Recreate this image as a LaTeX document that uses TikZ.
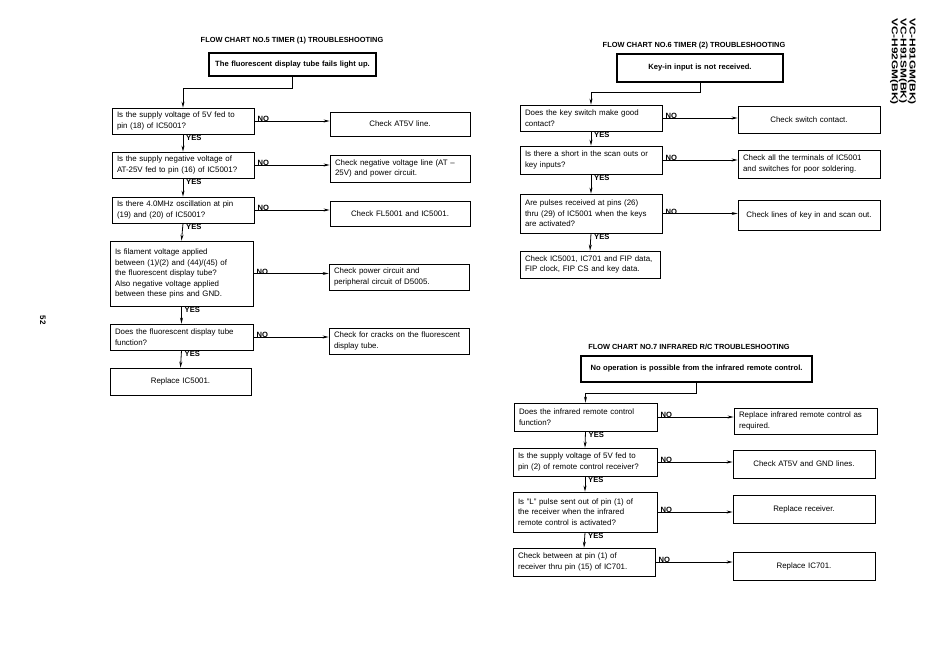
\documentclass[tikz,border=0pt]{standalone}
\usepackage{fontspec}
\setmainfont{Liberation Sans}
\usetikzlibrary{arrows.meta}
\begin{document}
\begin{tikzpicture}[x=1pt,y=-1pt,
  base/.style={draw, line width=0.8pt, inner xsep=5pt, inner ysep=2pt, font=\fontsize{7.9}{10.5}\selectfont},
  qbox/.style={base, text width=#1-10pt, align=left},
  rbox/.style={base, text width=#1-10pt, align=left},
  cbox/.style={base, text width=#1-10pt, align=center},
  sbox/.style={draw, line width=1.5pt, text width=#1-12pt, inner xsep=6pt, align=center, font=\fontsize{7.6}{9}\selectfont\bfseries},
  ttl/.style={font=\fontsize{7.4}{9}\selectfont\bfseries},
  lbl/.style={font=\fontsize{7.6}{9}\selectfont\bfseries, inner sep=1pt},
  arr/.style={line width=0.8pt, -{Stealth[length=6pt,width=3pt]}},
  ln/.style={line width=0.8pt}]
\useasboundingbox (0,0) rectangle (950,670);

% ---------- Chart 5 ----------
\node[ttl] (t5) at (292,41) {FLOW CHART NO.5 TIMER (1) TROUBLESHOOTING};
\node[sbox=167pt, minimum height=23pt] (s5) at (292.5,64.5) {The fluorescent display tube fails light up.};
\node[qbox=142pt, minimum height=26pt] (q51) at (183,121) {Is the supply voltage of 5V fed to\\pin (18) of IC5001?};
\node[cbox=140pt, minimum height=24pt] (r51) at (400,124) {Check AT5V line.};
\node[qbox=142pt, minimum height=26pt] (q52) at (183,165) {Is the supply negative voltage of\\AT-25V fed to pin (16) of IC5001?};
\node[rbox=140pt, minimum height=27pt] (r52) at (400,168.5) {Check negative voltage line (AT --\\25V) and power circuit.};
\node[qbox=142pt, minimum height=26pt] (q53) at (183,210) {Is there 4.0MHz oscillation at pin\\(19) and (20) of IC5001?};
\node[cbox=140pt, minimum height=25pt] (r53) at (400,213.5) {Check FL5001 and IC5001.};
\node[qbox=143pt, minimum height=65pt] (q54) at (181.5,273.5) {Is filament voltage applied\\between (1)/(2) and (44)/(45) of\\the fluorescent display tube?\\Also negative voltage applied\\between these pins and GND.};
\node[rbox=140pt, minimum height=26pt] (r54) at (399,277) {Check power circuit and\\peripheral circuit of D5005.};
\node[qbox=143pt, minimum height=26pt] (q55) at (181.5,337) {Does the fluorescent display tube\\function?};
\node[rbox=140pt, minimum height=26pt] (r55) at (399,341) {\mbox{Check for cracks on the fluorescent}\\display tube.};
\node[cbox=141pt, minimum height=27pt] (f5) at (180.5,381.5) {Replace IC5001.};

\draw[arr] (s5.south) -- ++(0,12) -| (q51.north);
\foreach \a/\b in {q51/q52,q52/q53,q53/q54,q54/q55,q55/f5}{
  \draw[arr] (\a.south) -- (\b.north);
  \node[lbl, anchor=north west] at ([xshift=2pt]\a.south) {YES};
}
\foreach \a/\b in {q51/r51,q52/r52,q53/r53,q54/r54,q55/r55}{
  \draw[arr] (\a.east) -- (\a.east -| \b.west);
  \node[lbl, anchor=south west] at ([xshift=2pt,yshift=-2pt]\a.east) {NO};
}

% ---------- Chart 6 ----------
\node[ttl] (t6) at (694,46) {FLOW CHART NO.6 TIMER (2) TROUBLESHOOTING};
\node[sbox=166pt, minimum height=28pt] (s6) at (700,68) {Key-in input is not received.};
\node[qbox=142pt, minimum height=26pt] (q61) at (591,118) {Does the key switch make good\\contact?};
\node[cbox=142pt, minimum height=27pt] (r61) at (809,119.5) {Check switch contact.};
\node[qbox=142pt, minimum height=28pt] (q62) at (591,160) {Is there a short in the scan outs or\\key inputs?};
\node[rbox=142pt, minimum height=28pt] (r62) at (809,164) {Check all the terminals of IC5001\\and switches for poor soldering.};
\node[qbox=142pt, minimum height=39pt] (q63) at (591,213.5) {Are pulses received at pins (26)\\thru (29) of IC5001 when the keys\\are activated?};
\node[cbox=142pt, minimum height=30pt] (r63) at (809,215) {Check lines of key in and scan out.};
\node[qbox=140pt, minimum height=27pt] (f6) at (590,264.5) {\mbox{Check IC5001, IC701 and FIP data,}\\FIP clock, FIP CS and key data.};

\draw[arr] (s6.south) -- ++(0,10) -| (q61.north);
\foreach \a/\b in {q61/q62,q62/q63,q63/f6}{
  \draw[arr] (\a.south) -- (\b.north);
  \node[lbl, anchor=north west] at ([xshift=2pt]\a.south) {YES};
}
\foreach \a/\b in {q61/r61,q62/r62,q63/r63}{
  \draw[arr] (\a.east) -- (\a.east -| \b.west);
  \node[lbl, anchor=south west] at ([xshift=2pt,yshift=-2pt]\a.east) {NO};
}

% ---------- Chart 7 ----------
\node[ttl] (t7) at (689,347) {FLOW CHART NO.7 INFRARED R/C TROUBLESHOOTING};
\node[sbox=231pt, minimum height=26pt] (s7) at (696.5,369) {No operation is possible from the infrared remote control.};
\node[qbox=143pt, minimum height=28pt] (q71) at (585.5,417) {Does the infrared remote control\\function?};
\node[rbox=143pt, minimum height=26pt] (r71) at (805.5,421) {Replace infrared remote control as\\required.};
\node[qbox=144pt, minimum height=28pt] (q72) at (585,462) {Is the supply voltage of 5V fed to\\\mbox{pin (2) of remote control receiver?}};
\node[cbox=142pt, minimum height=28pt] (r72) at (804,464) {Check AT5V and GND lines.};
\node[qbox=144pt, minimum height=40pt] (q73) at (585,512) {Is "L" pulse sent out of pin (1) of\\the receiver when the infrared\\remote control is activated?};
\node[cbox=142pt, minimum height=28pt] (r73) at (804,509) {Replace receiver.};
\node[qbox=142pt, minimum height=28pt] (q74) at (584,562) {Check between at pin (1) of\\receiver thru pin (15) of IC701.};
\node[cbox=142pt, minimum height=28pt] (r74) at (804,566) {Replace IC701.};

\draw[arr] (s7.south) -- ++(0,11) -| (q71.north);
\foreach \a/\b in {q71/q72,q72/q73,q73/q74}{
  \draw[arr] (\a.south) -- (\b.north);
  \node[lbl, anchor=north west] at ([xshift=2pt]\a.south) {YES};
}
\foreach \a/\b in {q71/r71,q72/r72,q73/r73,q74/r74}{
  \draw[arr] (\a.east) -- (\a.east -| \b.west);
  \node[lbl, anchor=south west] at ([xshift=2pt,yshift=-2pt]\a.east) {NO};
}

% ---------- margin texts ----------
\node[rotate=-90, font=\fontsize{8.5}{7.4}\selectfont\bfseries, align=left, anchor=north west, inner sep=0pt] (model) at (916,18) {\scalebox{1.4}[1]{VC-H91GM(BK)}\\\scalebox{1.4}[1]{VC-H91SM(BK)}\\\scalebox{1.4}[1]{VC-H92GM(BK)}};
\node[rotate=-90, font=\fontsize{8}{9}\selectfont\bfseries, inner sep=0pt] (pg) at (43,320) {52};
\end{tikzpicture}
\end{document}
